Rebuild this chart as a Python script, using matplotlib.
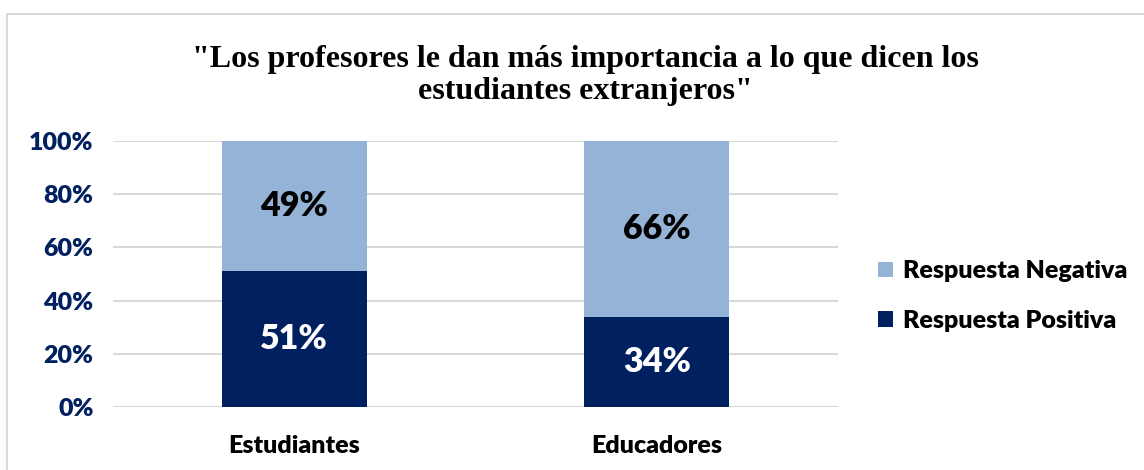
import matplotlib.pyplot as plt
from matplotlib.patches import Rectangle

categories = ["Estudiantes", "Educadores"]
positiva = [51, 34]
negativa = [49, 66]
y_ticks = [0, 20, 40, 60, 80, 100]

dark = "#002060"
light = "#95B3D7"
font = "Lato"
wt = "heavy"

fig = plt.figure(figsize=(11.44, 4.70), dpi=100)
ax = fig.add_axes([0.0988, 0.134, 0.6337, 0.566])

x = range(len(categories))
b1 = ax.bar(x, positiva, width=0.4, color=dark, label="Respuesta Positiva", zorder=3)
b2 = ax.bar(x, negativa, width=0.4, bottom=positiva, color=light,
            label="Respuesta Negativa", zorder=3)

ax.bar_label(b1, labels=[f"{v}%" for v in positiva], label_type="center",
             color="white", fontsize=24.5, fontweight=wt, family=font)
ax.bar_label(b2, labels=[f"{v}%" for v in negativa], label_type="center",
             color="black", fontsize=24.5, fontweight=wt, family=font)

ax.set_xlim(-0.5, 1.5)
ax.set_ylim(0, 100)
ax.set_yticks(y_ticks)
ax.set_yticklabels([f"{t}%" for t in y_ticks], color=dark, fontsize=18,
                   fontweight=wt, family=font)
ax.set_xticks(list(x))
ax.set_xticklabels(categories, color="black", fontsize=18, fontweight=wt,
                   family=font)
ax.tick_params(axis="both", length=0)
ax.tick_params(axis="y", pad=14)
ax.tick_params(axis="x", pad=20)
ax.grid(axis="y", color="#D9D9D9", linewidth=1.5, zorder=0)
for s in ax.spines.values():
    s.set_visible(False)

handles, labels = ax.get_legend_handles_labels()
leg = fig.legend(handles[::-1], labels[::-1], loc="center left",
                 bbox_to_anchor=(0.748, 0.37), frameon=False,
                 prop={"family": font, "weight": wt, "size": 18},
                 handlelength=0.6, handleheight=0.6, handletextpad=0.4,
                 labelspacing=1.1)

fig.text(0.512, 0.84, "\"Los profesores le dan más importancia a lo que dicen los\nestudiantes extranjeros\"",
         ha="center", va="center", family="Liberation Serif", fontweight="bold",
         fontsize=23, linespacing=1.15)

fig.patches.append(Rectangle((0.006, -0.1), 1.2, 1.07, transform=fig.transFigure,
                             fill=False, edgecolor="#D9D9D9", linewidth=1.5))

fig.savefig("out.png", dpi=100)
